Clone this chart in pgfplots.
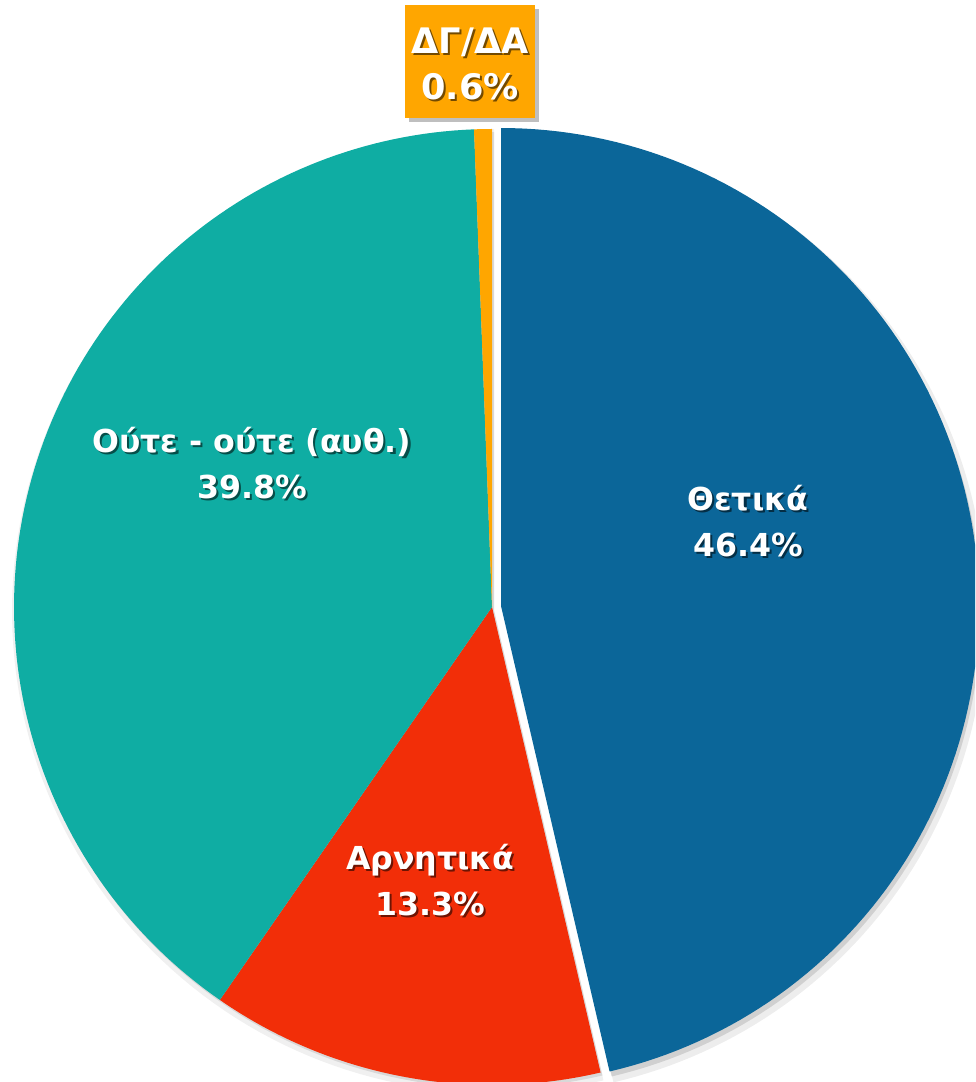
\documentclass[border=0pt]{standalone}
\usepackage{fontspec}
\setmainfont{DejaVu Sans}
\usepackage{pgfplots}
\pgfplotsset{compat=1.18}

\definecolor{cPos}{HTML}{0B6699}
\definecolor{cNeg}{HTML}{F22E08}
\definecolor{cNeu}{HTML}{0FADA3}
\definecolor{cDk}{HTML}{FFA600}

% shares (%)
\def\vPos{46.4}
\def\vNeg{13.3}
\def\vNeu{39.8}
\def\vDk{0.6}
\pgfmathsetmacro\tot{\vPos+\vNeg+\vNeu+\vDk}
\pgfmathsetmacro\aA{90}
\pgfmathsetmacro\aB{90-\vPos/\tot*360}
\pgfmathsetmacro\aC{\aB-\vNeg/\tot*360}
\pgfmathsetmacro\aD{\aC-\vNeu/\tot*360}
\pgfmathsetmacro\aE{\aD-\vDk/\tot*360}

\newcommand\lbl[4][9]{%
  \node[align=center, text=black, opacity=0.55, xshift=0.6pt, yshift=-0.6pt,
        font=\bfseries\fontsize{#1}{13}\selectfont] at (axis cs:#2,#3) {#4};
  \node[align=center, text=white,
        font=\bfseries\fontsize{#1}{13}\selectfont] at (axis cs:#2,#3) {#4};
}

\begin{document}
\begin{tikzpicture}
\begin{axis}[
  width=9.75cm, height=10.82cm, scale only axis,
  xmin=0, xmax=975, ymin=0, ymax=1082,
  hide axis, clip=true,
]
% shadows
\addplot[draw=none, fill=black, fill opacity=0.06, domain=\aE:\aB, samples=120]
  ({494+482*cos(x)},{471+482*sin(x)}) -- (axis cs:494,471) -- cycle;
\addplot[draw=none, fill=black, fill opacity=0.10, domain=\aE:\aB, samples=120]
  ({494+478*cos(x)},{472+478*sin(x)}) -- (axis cs:494,472) -- cycle;
\addplot[draw=none, fill=black, fill opacity=0.07, domain=\aB:\aA, samples=120]
  ({504+482*cos(x)},{469+482*sin(x)}) -- (axis cs:504,469) -- cycle;
\addplot[draw=none, fill=black, fill opacity=0.12, domain=\aB:\aA, samples=120]
  ({503+478*cos(x)},{471+478*sin(x)}) -- (axis cs:503,471) -- cycle;
% slices
\addplot[draw=none, fill=cNeg, domain=\aC:\aB, samples=60]
  ({492+478*cos(x)},{475+478*sin(x)}) -- (axis cs:492,475) -- cycle;
\addplot[draw=none, fill=cNeu, domain=\aD:\aC, samples=120]
  ({492+478*cos(x)},{475+478*sin(x)}) -- (axis cs:492,475) -- cycle;
\addplot[draw=none, fill=cDk, domain=\aE:\aD, samples=5]
  ({492+478*cos(x)},{475+478*sin(x)}) -- (axis cs:492,475) -- cycle;
\addplot[draw=none, fill=cPos, domain=\aB:\aA, samples=120]
  ({501+478*cos(x)},{476+478*sin(x)}) -- (axis cs:501,476) -- cycle;
% labels
\fill[black, opacity=0.25] (axis cs:409,1073) rectangle (axis cs:539,960);
\fill[cDk] (axis cs:405,1077) rectangle (axis cs:535,964);
\lbl[10]{470}{1018}{ΔΓ/ΔΑ\\0.6\%}
\lbl{748}{561}{Θετικά\\46.4\%}
\lbl{252}{619}{Ούτε - ούτε (αυθ.)\\39.8\%}
\lbl{430}{202}{Αρνητικά\\13.3\%}
\end{axis}
\pgfresetboundingbox
\useasboundingbox (current axis.south west) rectangle (current axis.north east);
\end{tikzpicture}
\end{document}
